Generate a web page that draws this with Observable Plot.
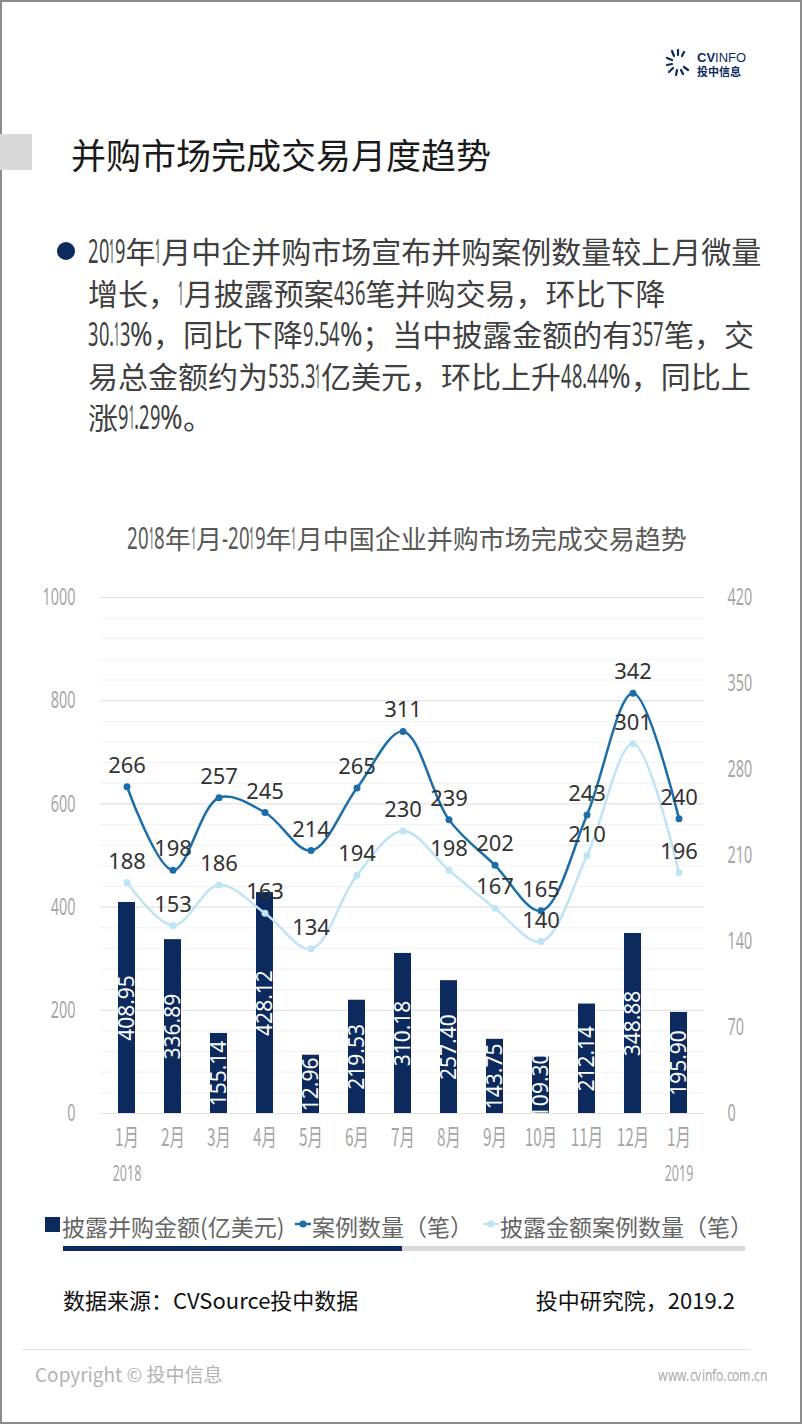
<!DOCTYPE html>
<html>
<head>
<meta charset="utf-8">
<script src="https://cdn.jsdelivr.net/npm/d3@7"></script>
<script src="https://cdn.jsdelivr.net/npm/@observablehq/plot@0.6"></script>
<style>
  html, body { margin: 0; padding: 0; background: #fff; }
  #page { position: relative; width: 802px; height: 1424px; overflow: hidden; background: #fff;
          font-family: "Noto Sans CJK SC", "Noto Sans", sans-serif; }
  .abs { position: absolute; white-space: nowrap; }
  span.cd { display: inline-block; font-family: "Noto Sans", "Noto Sans CJK SC", sans-serif; transform-origin: 0 50%; }
</style>
</head>
<body>
<div id="page">
  <div class="abs" style="left:0;top:0;width:802px;height:1424px;box-sizing:border-box;border:2px solid #8c8c8c;"></div>

  <!-- logo -->
  <svg class="abs" style="left:666px;top:49px" width="26" height="28" viewBox="0 0 26 28">
    <g stroke="#0c2a5e" stroke-width="2.2" stroke-linecap="round">
      <line x1="6" y1="2" x2="8" y2="7"/>
      <line x1="12" y1="1" x2="12" y2="6"/>
      <line x1="18" y1="3" x2="16" y2="7"/>
      <line x1="1" y1="9" x2="6" y2="11"/>
      <line x1="1" y1="16" x2="6" y2="15"/>
      <line x1="3" y1="23" x2="7" y2="19"/>
      <line x1="10" y1="26" x2="11" y2="21"/>
      <line x1="17" y1="25" x2="15" y2="21"/>
      <line x1="22" y1="21" x2="18" y2="18"/>
    </g>
  </svg>
  <div class="abs" style="left:697px;top:51px;font-size:13px;line-height:14px;color:#0c2a5e;font-family:'Liberation Sans','Noto Sans',sans-serif;"><b>CV</b>INFO</div>
  <div class="abs" style="left:697px;top:65px;font-size:11px;line-height:12px;color:#0c2a5e;font-weight:bold;">投中信息</div>

  <!-- header -->
  <div class="abs" style="left:0;top:134px;width:32px;height:36px;background:#d9d9d9;"></div>
  <div class="abs" style="left:71px;top:132px;font-size:35px;line-height:44px;color:#1a1a1a;">并购市场完成交易月度趋势</div>

  <!-- bullet paragraph -->
  <div class="abs" style="left:57px;top:242px;width:18px;height:18px;border-radius:50%;background:#0c2a5e;"></div>
  <div id="para" class="abs" style="left:88px;top:230px;font-size:30px;line-height:41.5px;color:#404040;">2019年1月中企并购市场宣布并购案例数量较上月微量<br>增长，1月披露预案436笔并购交易，环比下降<br>30.13%，同比下降9.54%；当中披露金额的有357笔，交<br>易总金额约为535.31亿美元，环比上升48.44%，同比上<br>涨91.29%。</div>

  <!-- chart title -->
  <div class="abs" style="left:0;width:814px;text-align:center;top:521px;font-size:26px;line-height:34px;color:#595959;"><span id="ctitle">2018年1月-2019年1月中国企业并购市场完成交易趋势</span></div>

  <div id="chart" class="abs" style="left:0;top:560px;"></div>

  <!-- legend -->
  <div class="abs" style="left:45px;top:1217px;width:15px;height:15px;background:#0c2a5e;"></div>
  <div class="abs" style="left:62px;top:1210px;font-size:23px;line-height:32px;color:#666;">披露并购金额(亿美元)</div>
  <svg class="abs" style="left:294px;top:1218px" width="18" height="12"><line x1="1" y1="6" x2="17" y2="6" stroke="#1b6ea8" stroke-width="2.5"/><circle cx="9" cy="6" r="3.5" fill="#1b6ea8"/></svg>
  <div class="abs" style="left:312px;top:1210px;font-size:23px;line-height:32px;color:#666;">案例数量（笔）</div>
  <svg class="abs" style="left:482px;top:1218px" width="18" height="12"><line x1="1" y1="6" x2="17" y2="6" stroke="#bfe4f3" stroke-width="2.5"/><circle cx="9" cy="6" r="3.5" fill="#bfe4f3"/></svg>
  <div class="abs" style="left:500px;top:1210px;font-size:23px;line-height:32px;color:#666;">披露金额案例数量（笔）</div>
  <div class="abs" style="left:63px;top:1246px;width:339px;height:5px;background:#0c2a5e;"></div>
  <div class="abs" style="left:402px;top:1246px;width:343px;height:5px;background:#d9d9d9;"></div>

  <!-- source -->
  <div class="abs" style="left:63px;top:1284px;font-size:22px;line-height:30px;color:#111;">数据来源：CVSource投中数据</div>
  <div class="abs" style="right:67px;top:1284px;font-size:22px;line-height:30px;color:#111;">投中研究院，2019.2</div>

  <!-- footer -->
  <div class="abs" style="left:22px;top:1349px;width:728px;height:1px;background:#e3e3e3;"></div>
  <div class="abs" style="left:35px;top:1361px;font-size:19px;line-height:26px;color:#b3b3b3;">Copyright © 投中信息</div>
  <div class="abs" style="right:35px;top:1364px;font-size:16px;line-height:20px;color:#aaa;text-align:right;"><span id="www">www.cvinfo.com.cn</span></div>
</div>

<script>
// ---- data ----
const categories = ["2018-01","2018-02","2018-03","2018-04","2018-05","2018-06","2018-07","2018-08","2018-09","2018-10","2018-11","2018-12","2019-01"];
const monthLabels = ["1月","2月","3月","4月","5月","6月","7月","8月","9月","10月","11月","12月","1月"];
const yearLabels = ["2018","","","","","","","","","","","","2019"];
const amounts = [408.95, 336.89, 155.14, 428.12, 112.96, 219.53, 310.18, 257.40, 143.75, 109.30, 212.14, 348.88, 195.90];
const amountLabels = ["408.95","336.89","155.14","428.12","12.96","219.53","310.18","257.40","143.75","109.30","212.14","348.88","195.90"];
const deals = [266, 198, 257, 245, 214, 265, 311, 239, 202, 165, 243, 342, 240];
const disclosedDeals = [188, 153, 186, 163, 134, 194, 230, 198, 167, 140, 210, 301, 196];
const leftTicks = [0, 200, 400, 600, 800, 1000];
const rightTicks = [0, 70, 140, 210, 280, 350, 420];

// ---- condensed digits in HTML text (one squeezed span per character) ----
function condense(el, scaleOf, fontSize) {
  const walker = document.createTreeWalker(el, NodeFilter.SHOW_TEXT);
  const nodes = [];
  while (walker.nextNode()) nodes.push(walker.currentNode);
  const spans = [];
  for (const n of nodes) {
    const parts = n.textContent.split(/([0-9A-Za-z.%\-]+)/);
    if (parts.length < 2) continue;
    const frag = document.createDocumentFragment();
    parts.forEach((p, i) => {
      if (!p) return;
      if (i % 2 === 1) {
        for (const ch of p) {
          const s = document.createElement("span");
          s.className = "cd";
          s.textContent = ch;
          s.style.fontSize = fontSize + "px";
          frag.appendChild(s);
          spans.push(s);
        }
      } else frag.appendChild(document.createTextNode(p));
    });
    n.replaceWith(frag);
  }
  for (const s of spans) {
    const sc = scaleOf(s.textContent);
    const w = s.offsetWidth;
    s.style.transform = `scaleX(${sc})`;
    s.style.marginRight = (-(1 - sc) * w) + "px";
  }
}
const digitScale = base => ch => ch === "1" ? 0.3 : ch === "%" ? 0.85 : ch === "." ? 0.6 : base;
condense(document.getElementById("para"), digitScale(0.57), 32);
condense(document.getElementById("ctitle"), digitScale(0.62), 30);
condense(document.getElementById("www"), () => 0.75, 16);

// ---- chart ----
const leftMax = 1000, rightMax = 420;
const k = leftMax / rightMax;
const rows = categories.map((c, i) => ({
  c, month: monthLabels[i], year: yearLabels[i],
  amount: amounts[i], label: amountLabels[i],
  deals: deals[i], disclosed: disclosedDeals[i]
}));
const valueFont = "'Noto Sans','Open Sans',sans-serif";
const navy = "#0c2a5e", blue = "#1b6ea8", light = "#bfe4f3", tickGray = "#a6a6a6";

const chart = Plot.plot({
  width: 802,
  height: 640,
  marginTop: 37,
  marginBottom: 87,
  marginLeft: 100,
  marginRight: 98,
  style: { background: "transparent", overflow: "visible", fontFamily: valueFont },
  x: { type: "band", domain: categories, paddingInner: 0.634, paddingOuter: 0.317, axis: null },
  y: { domain: [0, leftMax], axis: null, label: null },
  marks: [
    Plot.ruleY(d3.range(0, leftMax + 1, 40), { stroke: "#f1f1f1", strokeWidth: 1 }),
    Plot.ruleY(leftTicks, { stroke: "#e2e2e2", strokeWidth: 1 }),
    Plot.text(leftTicks, { y: d => d, text: d => String(d), frameAnchor: "left", dx: -25, textAnchor: "end", fontSize: 24, fill: tickGray }),
    Plot.text(rightTicks, { y: d => d * k, text: d => String(d), frameAnchor: "right", dx: 23, textAnchor: "start", fontSize: 24, fill: tickGray }),
    Plot.barY(rows, { x: "c", y: "amount", fill: navy }),
    Plot.text(rows, { x: "c", y: d => d.amount / 2, text: "label", rotate: -90, fill: "#fff", fontSize: 21 }),
    Plot.line(rows, { x: "c", y: d => d.disclosed * k, stroke: light, strokeWidth: 2.5, curve: "catmull-rom" }),
    Plot.dot(rows, { x: "c", y: d => d.disclosed * k, r: 3.5, fill: light }),
    Plot.line(rows, { x: "c", y: d => d.deals * k, stroke: blue, strokeWidth: 2.5, curve: "catmull-rom" }),
    Plot.dot(rows, { x: "c", y: d => d.deals * k, r: 3.5, fill: blue }),
    Plot.text(rows, { x: "c", y: d => d.disclosed * k, text: "disclosed", dy: -21, fontSize: 22, fill: "#333" }),
    Plot.text(rows, { x: "c", y: d => d.deals * k, text: "deals", dy: -21, fontSize: 22, fill: "#333" }),
    Plot.text(rows, { x: "c", text: "month", frameAnchor: "bottom", dy: 32, fontSize: 24, fill: tickGray, fontFamily: "'Noto Sans CJK SC',sans-serif" }),
    Plot.text(rows.filter(d => d.year), { x: "c", text: "year", frameAnchor: "bottom", dy: 67, fontSize: 22, fill: tickGray })
  ]
});
document.getElementById("chart").appendChild(chart);

// condense the tick-like SVG texts horizontally around their anchor points
function squeezeSvgTexts(group, s) {
  if (!group) return;
  group.querySelectorAll("text").forEach(t => {
    const ax = parseFloat(t.getAttribute("x")) || 0;
    const prev = t.getAttribute("transform") || "";
    t.setAttribute("transform", `${prev} translate(${ax},0) scale(${s},1) translate(${-ax},0)`.trim());
  });
}
const textGroups = chart.querySelectorAll('g[aria-label="text"]');
// order: left ticks, right ticks, bar labels, disclosed labels, deal labels, months, years
squeezeSvgTexts(textGroups[0], 0.6);
squeezeSvgTexts(textGroups[1], 0.6);
squeezeSvgTexts(textGroups[5], 0.64);
squeezeSvgTexts(textGroups[6], 0.57);
</script>
</body>
</html>
